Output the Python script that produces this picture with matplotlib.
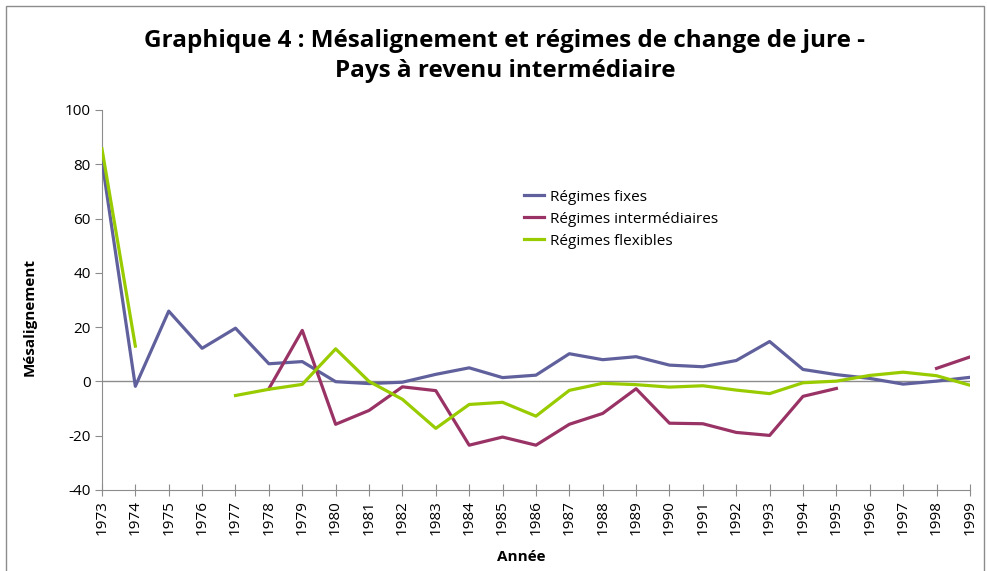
import numpy as np
import matplotlib
matplotlib.use('Agg')
import matplotlib.pyplot as plt
from matplotlib.patches import Rectangle

plt.rcParams['font.family'] = ['Open Sans', 'DejaVu Sans']
plt.rcParams['axes.unicode_minus'] = False

annees = list(range(1973, 2000))

# Mésalignement par type de régime (nan = pas de donnée)
fixes = [81.2, -1.8, 25.9, 12.2, 19.6, 6.5, 7.3, -0.1, -0.8, -0.3,
         2.6, 5.0, 1.4, 2.3, 10.2, 8.0, 9.1, 6.0, 5.4, 7.7,
         14.7, 4.4, 2.5, 1.1, -1.0, 0.1, 1.5]
intermediaires = [np.nan, np.nan, np.nan, np.nan, np.nan, -2.7, 18.8, -15.8, -10.7, -2.0,
                  -3.4, -23.5, -20.5, -23.5, -15.8, -11.8, -2.7, -15.4, -15.6, -18.8,
                  -19.9, -5.5, -2.6, np.nan, np.nan, 4.8, 9.0]
flexibles = [85.7, 13.0, np.nan, np.nan, -5.2, -2.9, -1.1, 12.0, 0.0, -6.6,
             -17.3, -8.5, -7.7, -12.8, -3.3, -0.7, -1.2, -2.1, -1.6, -3.2,
             -4.5, -0.5, 0.1, 2.2, 3.4, 2.1, -1.4]

series = [
    ('Régimes fixes', fixes, '#60609d'),
    ('Régimes intermédiaires', intermediaires, '#993366'),
    ('Régimes flexibles', flexibles, '#99cc00'),
]

fig = plt.figure(figsize=(9.88, 5.71), dpi=100)
ax = fig.add_axes([0.1032, 0.1419, 0.8785, 0.6655])

# cadre autour du graphique
fig.patches.append(Rectangle((0.006, -0.01), 0.99, 1.0, transform=fig.transFigure,
                             fill=False, edgecolor='#8c8c8c', linewidth=1.0))

ax.axhline(0, color='#8c8c8c', linewidth=1.0, zorder=1)
for nom, valeurs, couleur in series:
    ax.plot(annees, valeurs, color=couleur, linewidth=2.3, label=nom, zorder=3)

ax.set_xlim(1973, 1999)
ax.set_ylim(-40, 100)
ax.set_yticks(range(-40, 101, 20))
ax.set_xticks(annees)
ax.set_xticklabels([str(a) for a in annees], rotation=90)

for s in ['top', 'right']:
    ax.spines[s].set_visible(False)
for s in ['left', 'bottom']:
    ax.spines[s].set_color('#8c8c8c')
ax.tick_params(axis='y', direction='out', length=5, color='#8c8c8c', labelsize=11, pad=3)
ax.tick_params(axis='x', direction='inout', length=9, color='#8c8c8c', labelsize=11, pad=3)

ax.set_ylabel('Mésalignement', fontsize=11, fontweight='bold')
ax.yaxis.set_label_coords(-0.075, 0.455)
ax.set_xlabel('Année', fontsize=11, fontweight='bold')
ax.xaxis.set_label_coords(0.483, -0.158)

fig.text(0.511, 0.902, 'Graphique 4 : Mésalignement et régimes de change de jure -\nPays à revenu intermédiaire',
         ha='center', va='center', fontsize=17.5, fontweight='bold', linespacing=1.3)

ax.legend(loc='upper left', bbox_to_anchor=(0.47, 0.826), frameon=False, fontsize=11,
          handlelength=1.3, handletextpad=0.4, labelspacing=0.45)

fig.savefig('out.png', dpi=100)
